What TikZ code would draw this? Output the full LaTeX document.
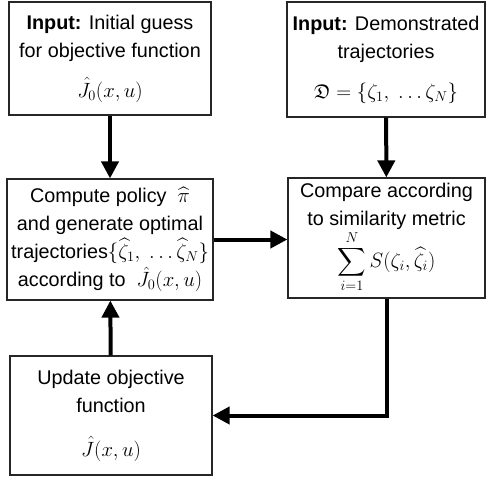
\documentclass[tikz,border=0pt]{standalone}
\usepackage{amssymb}
\usepackage{fontspec}
\setmainfont{Liberation Sans}
\usetikzlibrary{arrows.meta}
\begin{document}
\begin{tikzpicture}[x=1bp,y=-1bp,
  box/.style={draw=black!85, line width=1.2bp, fill=white, inner sep=0pt,
    align=center, font=\fontsize{19.8bp}{28bp}\selectfont},
  flow/.style={line width=4bp, -{Triangle[length=17bp,width=17bp]}}]
\useasboundingbox (0,0) rectangle (487,478);
\node[box, minimum width=202bp, minimum height=113bp] (init) at (110,58.5)
  {\textbf{Input:} Initial guess\\ for objective function\\[12bp] $\hat{J}_0(x,u)$};
\node[box, minimum width=198bp, minimum height=115bp] (demo) at (386,59.5)
  {\textbf{Input:} Demonstrated\\ trajectories\\[12bp] $\mathfrak{D}=\{\zeta_1,\ \dots\zeta_N\}$};
\node[box, minimum width=206bp, minimum height=121bp] (comp) at (110,239.5)
  {Compute policy \ $\widehat{\pi}$\\ and generate optimal\\ trajectories$\{\widehat{\zeta}_1,\ \dots\widehat{\zeta}_N\}$\\ according to \ $\hat{J}_0(x,u)$};
\node[box, minimum width=197bp, minimum height=120bp] (cmp) at (386.5,238)
  {Compare according\\ to similarity metric\\ $\displaystyle\sum_{i=1}^{N} S(\zeta_i,\widehat{\zeta}_i)$};
\node[box, minimum width=202bp, minimum height=119bp] (upd) at (111,415.5)
  {Update objective\\ function\\[16bp] $\hat{J}(x,u)$};
\draw[flow] (init) -- (comp);
\draw[flow] (demo) -- (cmp);
\draw[flow] (comp.east) -- (comp.east -| cmp.west);
\draw[flow] (upd) -- (comp);
\draw[flow] (cmp.south) |- (upd.east);
\end{tikzpicture}
\end{document}
